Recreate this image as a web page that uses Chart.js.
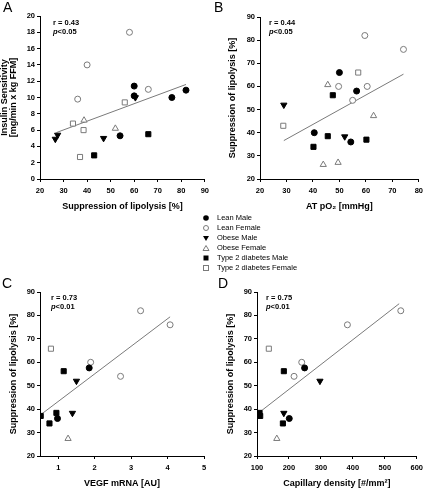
<!DOCTYPE html>
<html>
<head>
<meta charset="utf-8">
<script src="https://cdn.jsdelivr.net/npm/chart.js"></script>
<style>
body { margin: 0; background: #fff; width: 427px; height: 489px; position: relative; overflow: hidden; font-family: 'Liberation Sans', Arial, sans-serif; }
canvas { position: absolute; }
.lab { position: absolute; font-size: 14px; line-height: 14px; }
.st { position: absolute; font-size: 7.5px; font-weight: bold; line-height: 9px; white-space: nowrap; }
#legend { position: absolute; left: 201px; top: 213px; font-size: 7.5px; line-height: 9.2px; white-space: nowrap; }
#legend svg { vertical-align: middle; margin-right: 6px; }
</style>
</head>
<body>
<canvas id="chartA" style="left:0;top:0" width="213" height="215"></canvas>
<canvas id="chartB" style="left:212px;top:0" width="215" height="215"></canvas>
<canvas id="chartC" style="left:0;top:240px" width="212" height="249"></canvas>
<canvas id="chartD" style="left:212px;top:240px" width="215" height="249"></canvas>

<div class="lab" style="left:3px;top:0">A</div>
<div class="lab" style="left:214px;top:0">B</div>
<div class="lab" style="left:2px;top:276px">C</div>
<div class="lab" style="left:218px;top:276px">D</div>

<div class="st" style="left:53px;top:18px">r = 0.43<br><i>p</i>&lt;0.05</div>
<div class="st" style="left:269px;top:18px">r = 0.44<br><i>p</i>&lt;0.05</div>
<div class="st" style="left:51px;top:293px">r = 0.73<br><i>p</i>&lt;0.01</div>
<div class="st" style="left:266px;top:293px">r = 0.75<br><i>p</i>&lt;0.01</div>

<div id="legend"></div>

<script>
const groups = ['Lean Male', 'Lean Female', 'Obese Male', 'Obese Female', 'Type 2 diabetes Male', 'Type 2 diabetes Female'];

// A: suppression of lipolysis [%] vs insulin sensitivity
const aLeanMale = [[60, 11.4], [60, 10.2], [54, 5.3], [76, 10.0], [82, 10.9]];
const aLeanFemale = [[58, 18.0], [40, 14.0], [36, 9.8], [66, 11.0]];
const aObeseMale = [[26.5, 4.9], [27.5, 5.4], [47, 5.0], [60.5, 10.0]];
const aObeseFemale = [[38.7, 7.2], [52, 6.2]];
const aT2dMale = [[43, 2.9], [66, 5.5]];
const aT2dFemale = [[34, 6.8], [38.5, 6.0], [37, 2.7], [56, 9.4]];
const aFit = [[27, 5.7], [82, 11.6]];

// B: AT pO2 vs suppression of lipolysis
const bLeanMale = [[50, 66], [56.5, 58], [40.5, 40], [54.3, 36]];
const bLeanFemale = [[59.6, 82], [74.2, 76], [49.7, 60], [60.5, 60], [55, 54]];
const bObeseMale = [[29, 52], [52, 38.3]];
const bObeseFemale = [[45.6, 60.7], [62.9, 47.3], [43.9, 26.2], [49.5, 27.1]];
const bT2dMale = [[47.5, 56.2], [45.6, 38.5], [40.2, 33.9], [60.2, 37]];
const bT2dFemale = [[28.8, 43], [57.1, 66]];
const bFit = [[29, 36.6], [74.2, 65.3]];

// C: VEGF mRNA vs suppression of lipolysis
const cLeanMale = [[1.85, 57.6], [0.98, 36]];
const cLeanFemale = [[3.26, 82], [4.07, 76], [1.89, 60], [2.71, 54]];
const cObeseMale = [[1.5, 52], [1.39, 38.3]];
const cObeseFemale = [[1.27, 27.4]];
const cT2dMale = [[1.15, 56.2], [0.52, 37.1], [0.95, 38.4], [0.76, 33.9]];
const cT2dFemale = [[0.8, 65.8]];
const cFit = [[0.5, 37.4], [4.07, 79.4]];

// D: capillary density vs suppression of lipolysis
const dLeanMale = [[249, 57.6], [201, 36]];
const dLeanFemale = [[550, 82], [383, 76], [240, 60], [216, 54]];
const dObeseMale = [[297, 52], [184, 38.3]];
const dObeseFemale = [[162, 27.4]];
const dT2dMale = [[184, 56.2], [108, 38.4], [110, 37.1], [181, 33.9]];
const dT2dFemale = [[137, 65.8]];
const dFit = [[108, 38.7], [545, 85]];

const aXTicks = [20, 30, 40, 50, 60, 70, 80, 90];
const aYTicks = [0, 2, 4, 6, 8, 10, 12, 14, 16, 18, 20];
const bXTicks = [20, 30, 40, 50, 60, 70, 80];
const cXTicks = [1, 2, 3, 4, 5];
const dXTicks = [100, 200, 300, 400, 500, 600];
const lipoTicks = [20, 30, 40, 50, 60, 70, 80, 90];

const grey = '#7a7a7a';
const marks = [
    {style: 'circle', r: 3, bg: '#000', bd: '#000', rot: 0},
    {style: 'circle', r: 3, bg: '#fff', bd: grey, rot: 0},
    {style: 'triangle', r: 3.6, bg: '#000', bd: '#000', rot: 180},
    {style: 'triangle', r: 3.6, bg: '#fff', bd: grey, rot: 0},
    {style: 'rect', r: 3.6, bg: '#000', bd: '#000', rot: 0},
    {style: 'rect', r: 3.6, bg: '#fff', bd: grey, rot: 0}
];

const FONT = "'Liberation Sans', Arial, sans-serif";
const pts = arr => arr.map(p => ({x: p[0], y: p[1]}));

function makeChart(id, sets, fit, o) {
    const datasets = sets.map((s, i) => ({
        label: groups[i],
        data: pts(s),
        pointStyle: marks[i].style,
        pointRadius: marks[i].r,
        pointRotation: marks[i].rot,
        pointBackgroundColor: marks[i].bg,
        pointBorderColor: marks[i].bd,
        pointBorderWidth: 1,
        order: 1
    }));
    datasets.push({
        label: 'fit',
        data: pts(fit),
        showLine: true,
        pointRadius: 0,
        borderColor: grey,
        borderWidth: 1,
        order: 10
    });
    const tickFont = {family: FONT, size: 7.5, weight: 'bold', lineHeight: 1.2};
    const titleFont = {family: FONT, size: 9, weight: 'bold', lineHeight: 1};
    const axisBits = {
        border: {color: '#000', width: 1},
        grid: {drawOnChartArea: false, drawTicks: true, tickLength: 3, color: '#000'}
    };
    return new Chart(document.getElementById(id), {
        type: 'scatter',
        data: {datasets: datasets},
        options: {
            responsive: false,
            animation: false,
            devicePixelRatio: 1,
            layout: {padding: {left: 0, top: o.top, right: o.right, bottom: 0}},
            plugins: {legend: {display: false}, tooltip: {enabled: false}},
            scales: {
                x: Object.assign({
                    type: 'linear', min: o.xmin, max: o.xmax,
                    afterBuildTicks: ax => { ax.ticks = o.xticks.map(v => ({value: v})); },
                    afterFit: ax => { ax.height = o.xh; },
                    ticks: {font: tickFont, color: '#000', padding: 4, maxRotation: 0, autoSkip: false},
                    title: {display: true, text: o.xtitle, font: titleFont, color: '#000', padding: {top: 0, bottom: o.xtb}}
                }, axisBits),
                y: Object.assign({
                    type: 'linear', min: o.ymin, max: o.ymax,
                    afterBuildTicks: ax => { ax.ticks = o.yticks.map(v => ({value: v})); },
                    afterFit: ax => { ax.width = o.yw; },
                    ticks: {font: tickFont, color: '#000', padding: 2, autoSkip: false},
                    title: {display: true, text: o.ytitle, font: titleFont, color: '#000', padding: {top: o.ytp, bottom: 0}}
                }, axisBits)
            }
        }
    });
}

makeChart('chartA', [aLeanMale, aLeanFemale, aObeseMale, aObeseFemale, aT2dMale, aT2dFemale], aFit, {
    top: 16, right: 7, xh: 36, yw: 40, xtb: 3.5, ytp: 0.5,
    xmin: 20, xmax: 90, xticks: aXTicks, ymin: 0, ymax: 20, yticks: aYTicks,
    xtitle: 'Suppression of lipolysis [%]', ytitle: ['Insulin Sensitivity', '[mg/min x kg FFM]']
});
makeChart('chartB', [bLeanMale, bLeanFemale, bObeseMale, bObeseFemale, bT2dMale, bT2dFemale], bFit, {
    top: 17, right: 5, xh: 36, yw: 48, xtb: 3.5, ytp: 16,
    xmin: 20, xmax: 80, xticks: bXTicks, ymin: 20, ymax: 90, yticks: lipoTicks,
    xtitle: 'AT pO\u2082 [mmHg]', ytitle: 'Suppression of lipolysis [%]'
});
makeChart('chartC', [cLeanMale, cLeanFemale, cObeseMale, cObeseFemale, cT2dMale, cT2dFemale], cFit, {
    top: 52, right: 8, xh: 33, yw: 40, xtb: 0.5, ytp: 9.5,
    xmin: 0.5, xmax: 5, xticks: cXTicks, ymin: 20, ymax: 90, yticks: lipoTicks,
    xtitle: 'VEGF mRNA [AU]', ytitle: 'Suppression of lipolysis [%]'
});
makeChart('chartD', [dLeanMale, dLeanFemale, dObeseMale, dObeseFemale, dT2dMale, dT2dFemale], dFit, {
    top: 52, right: 7, xh: 33, yw: 45, xtb: 0.5, ytp: 14,
    xmin: 100, xmax: 600, xticks: dXTicks, ymin: 20, ymax: 90, yticks: lipoTicks,
    xtitle: 'Capillary density [#/mm\u00b2]', ytitle: 'Suppression of lipolysis [%]'
});

// legend markers drawn as tiny svgs next to real text
const legendShapes = [
    '<circle cx="5" cy="5" r="2.8" fill="#000"/>',
    '<circle cx="5" cy="5" r="2.5" fill="#fff" stroke="' + grey + '"/>',
    '<polygon points="2,3 8,3 5,8" fill="#000"/>',
    '<polygon points="2,7.5 8,7.5 5,2.5" fill="#fff" stroke="' + grey + '"/>',
    '<rect x="2.5" y="2.5" width="5" height="5" fill="#000"/>',
    '<rect x="2.5" y="2.5" width="5" height="5" fill="#fff" stroke="' + grey + '"/>'
];
document.getElementById('legend').innerHTML = groups.map((g, i) =>
    '<div><svg width="10" height="10">' + legendShapes[i] + '</svg>' + g + '</div>').join('');
</script>
</body>
</html>
